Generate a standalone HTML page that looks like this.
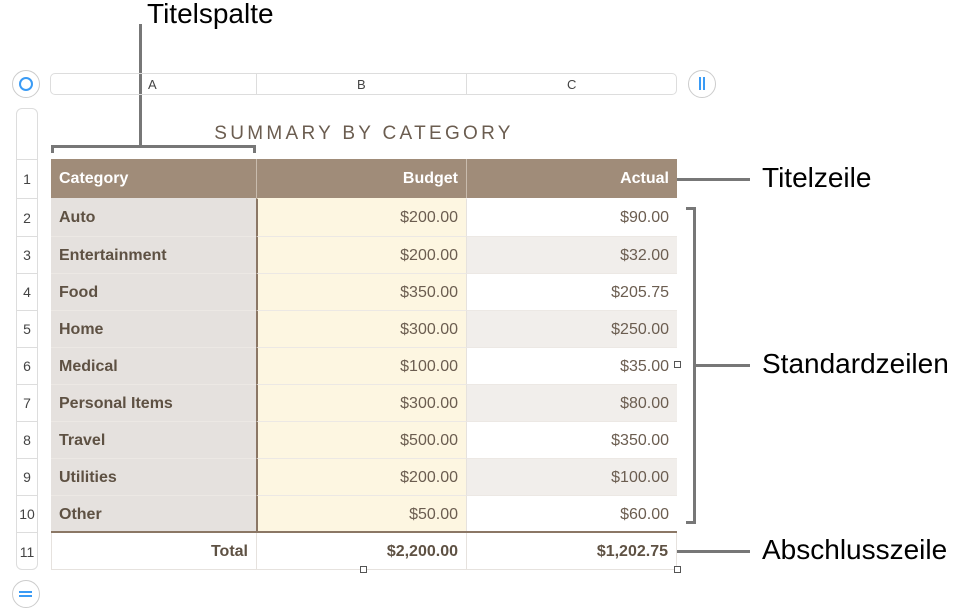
<!DOCTYPE html>
<html><head><style>
body{margin:0;width:976px;height:614px;background:#fff;position:relative;font-family:"Liberation Sans",sans-serif;overflow:hidden}
.a{position:absolute}
.lbl{position:absolute;font-size:28px;color:#000}
.cell{position:absolute;box-sizing:border-box;font-size:16px;line-height:37px;padding:0 8px;color:#6b5d50}
.rn{position:absolute;left:16px;width:22px;text-align:center;font-size:14px;color:#444;border-top:1px solid #ddd;box-sizing:border-box}
</style></head><body>
<div class="lbl" style="left:147px;top:-2px">Titelspalte</div>
<div class="a" style="left:139px;top:24px;width:3px;height:122px;background:#777"></div>
<div class="a" style="left:51px;top:145px;width:205px;height:8px;border:3px solid #777;border-bottom:none;box-sizing:border-box"></div>

<div class="a" style="left:12px;top:70px;width:26px;height:26px;border:1px solid #ccc;border-radius:50%"></div>
<div class="a" style="left:19px;top:77px;width:10px;height:10px;border:2px solid #3a9bf5;border-radius:50%"></div>
<div class="a" style="left:50px;top:73px;width:627px;height:22px;border:1px solid #ddd;border-radius:5px;box-sizing:border-box"></div>
<div class="a" style="left:256px;top:73px;width:1px;height:22px;background:#ddd"></div>
<div class="a" style="left:466px;top:73px;width:1px;height:22px;background:#ddd"></div>
<div class="a" style="left:148px;top:77px;font-size:13px;color:#444">A</div>
<div class="a" style="left:357px;top:77px;font-size:13px;color:#444">B</div>
<div class="a" style="left:567px;top:77px;font-size:13px;color:#444">C</div>
<div class="a" style="left:688px;top:70px;width:26px;height:26px;border:1px solid #ccc;border-radius:50%"></div>
<div class="a" style="left:699px;top:77px;width:2px;height:13px;background:#3a9bf5"></div>
<div class="a" style="left:703px;top:77px;width:2px;height:13px;background:#3a9bf5"></div>

<div class="a" style="left:16px;top:108px;width:22px;height:462px;border:1px solid #ddd;border-radius:6px;box-sizing:border-box"></div>
<div class="a" style="left:12px;top:580px;width:26px;height:26px;border:1px solid #ccc;border-radius:50%"></div>
<div class="a" style="left:19px;top:591px;width:13px;height:2px;background:#3a9bf5"></div>
<div class="a" style="left:19px;top:595px;width:13px;height:2px;background:#3a9bf5"></div>

<div class="a" style="left:51px;top:123px;width:626px;text-align:center;font-size:19px;letter-spacing:3.3px;color:#6b5d50">SUMMARY BY CATEGORY</div>

<div id="t"></div>
<script>
var rows=[["Auto","$200.00","$90.00"],["Entertainment","$200.00","$32.00"],["Food","$350.00","$205.75"],["Home","$300.00","$250.00"],["Medical","$100.00","$35.00"],["Personal Items","$300.00","$80.00"],["Travel","$500.00","$350.00"],["Utilities","$200.00","$100.00"],["Other","$50.00","$60.00"]];
var h='';
var tops=[159,198,236,273,310,347,384,421,458,495,532,570];
function c(x,w,y,hh,bg,txt,st){return '<div class="cell" style="left:'+x+'px;top:'+y+'px;width:'+w+'px;height:'+hh+'px;line-height:'+hh+'px;background:'+bg+';'+st+'">'+txt+'</div>';}
h+=c(51,205,159,39,'#a08c79','Category','color:#fff;font-weight:bold;font-size:16px');
h+=c(256,210,159,39,'#a08c79','Budget','color:#fff;font-weight:bold;text-align:right;border-left:1px solid #c9bcae');
h+=c(466,211,159,39,'#a08c79','Actual','color:#fff;font-weight:bold;text-align:right;border-left:1px solid #c9bcae');
for(var i=0;i<9;i++){var y=tops[i+1],hh=tops[i+2]-y;var bd='border-top:1px solid '+(i?'#ece8e4':'transparent')+';';
h+=c(51,205,y,hh,'#e5e1de',rows[i][0],bd+'font-weight:bold;color:#5e5143');
h+=c(256,210,y,hh,'#fdf6e1',rows[i][1],bd+'text-align:right;border-left:2px solid #8b7765');
h+=c(466,211,y,hh,i%2?'#f1eeeb':'#fff',rows[i][2],bd+'text-align:right;border-left:1px solid #e6e2de');
h+='<div class="rn" style="top:'+y+'px;height:'+hh+'px;line-height:'+hh+'px">'+(i+2)+'</div>';}
h+='<div class="rn" style="top:159px;height:39px;line-height:39px">1</div>';
h+='<div class="rn" style="top:532px;height:38px;line-height:38px">11</div>';
h+='<div class="a" style="left:51px;top:531px;width:626px;height:2px;background:#8b7765"></div>';
h+=c(51,205,533,37,'#fff','Total','font-weight:bold;color:#5e5143;text-align:right;border-left:1px solid #e6e2de;border-bottom:1px solid #e6e2de');
h+=c(256,210,533,37,'#fff','$2,200.00','font-weight:bold;color:#5e5143;text-align:right;border-left:1px solid #e6e2de;border-bottom:1px solid #e6e2de');
h+=c(466,211,533,37,'#fff','$1,202.75','font-weight:bold;color:#5e5143;text-align:right;border-left:1px solid #e6e2de;border-right:1px solid #e6e2de;border-bottom:1px solid #e6e2de');
document.getElementById('t').innerHTML=h;
</script>
<div class="a" style="left:360px;top:566px;width:7px;height:7px;border:1px solid #555;background:#fff;box-sizing:border-box"></div>
<div class="a" style="left:674px;top:566px;width:7px;height:7px;border:1px solid #555;background:#fff;box-sizing:border-box"></div>
<div class="a" style="left:674px;top:361px;width:7px;height:7px;border:1px solid #555;background:#fff;box-sizing:border-box"></div>

<div class="a" style="left:677px;top:178px;width:73px;height:3px;background:#777"></div>
<div class="lbl" style="left:762px;top:162px">Titelzeile</div>
<div class="a" style="left:686px;top:207px;width:10px;height:317px;border:3px solid #777;border-left:none;box-sizing:border-box"></div>
<div class="a" style="left:696px;top:364px;width:54px;height:3px;background:#777"></div>
<div class="lbl" style="left:762px;top:348px">Standardzeilen</div>
<div class="a" style="left:677px;top:550px;width:73px;height:3px;background:#777"></div>
<div class="lbl" style="left:762px;top:534px">Abschlusszeile</div>
</body></html>
